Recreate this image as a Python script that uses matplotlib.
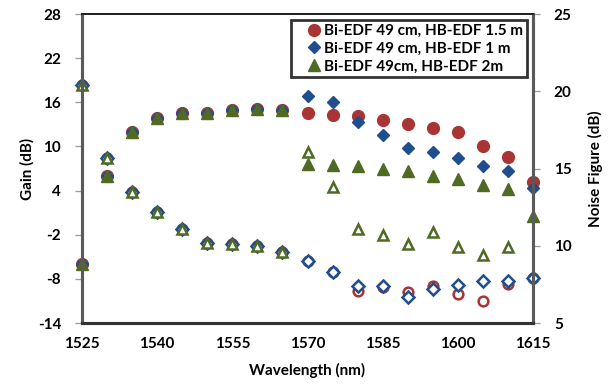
import matplotlib.pyplot as plt
import numpy as np

wavelength = [1525, 1530, 1535, 1540, 1545, 1550, 1555, 1560, 1565, 1570,
              1575, 1580, 1585, 1590, 1595, 1600, 1605, 1610, 1615]

labels = ['Bi-EDF 49 cm, HB-EDF 1.5 m', 'Bi-EDF 49 cm, HB-EDF 1 m', 'Bi-EDF 49cm, HB-EDF 2m']

gain_15 = [-6.0, 6.0, 12.0, 13.8, 14.5, 14.6, 14.9, 15.1, 15.0, 14.5,
           14.3, 14.1, 13.6, 13.1, 12.5, 12.0, 10.1, 8.5, 5.2]
gain_1 = [-6.0, 6.0, 12.0, 13.8, 14.5, 14.6, 14.9, 15.1, 15.0, 16.8,
          16.0, 13.3, 11.5, 9.8, 9.2, 8.4, 7.4, 6.7, 4.3]
gain_2 = [-6.0, 6.0, 12.0, 13.8, 14.5, 14.6, 14.9, 15.1, 15.0, 7.6,
          7.5, 7.3, 7.0, 6.7, 6.0, 5.6, 4.8, 4.2, 0.6]

nf_15 = [20.4, 15.7, 13.5, 12.2, 11.1, 10.2, 10.1, 10.0, 9.6, 9.0,
         8.3, 7.1, 7.3, 7.0, 7.4, 6.9, 6.4, 7.5, 7.9]
nf_1 = [20.4, 15.7, 13.5, 12.2, 11.1, 10.2, 10.1, 10.0, 9.6, 9.0,
        8.3, 7.4, 7.4, 6.7, 7.2, 7.45, 7.75, 7.7, 7.9]
nf_2 = [20.4, 15.7, 13.5, 12.2, 11.1, 10.2, 10.1, 10.0, 9.6, 16.1,
        13.8, 11.1, 10.7, 10.1, 10.9, 9.9, 9.4, 9.9, np.nan]

red = '#A93434'
blue = '#1F4E8F'
green = '#4F6A23'

plt.rcParams['font.family'] = ['Lato', 'DejaVu Sans']
plt.rcParams['font.weight'] = 'bold'
plt.rcParams['axes.unicode_minus'] = False

fig = plt.figure(figsize=(6.14, 3.85), dpi=100)
ax = fig.add_axes([0.1336, 0.161, 0.7345, 0.8026])
ax2 = ax.twinx()

# gain, filled markers
h1, = ax.plot(wavelength, gain_15, 'o', color=red, ms=8.5, clip_on=False, zorder=3)
h2, = ax.plot(wavelength, gain_1, 'D', color=blue, ms=6.5, clip_on=False, zorder=4)
h3, = ax.plot(wavelength, gain_2, '^', color=green, ms=8, clip_on=False, zorder=5)

# noise figure, open markers
ax2.plot(wavelength, nf_15, 'o', mfc='white', mec=red, mew=1.8, ms=7, clip_on=False)
ax2.plot(wavelength, nf_1, 'D', mfc='white', mec=blue, mew=1.8, ms=6, clip_on=False)
ax2.plot(wavelength, nf_2, '^', mfc='white', mec=green, mew=1.8, ms=7, clip_on=False)

ax.set_xlim(1525, 1615)
ax.set_ylim(-14, 28)
ax2.set_ylim(5, 25)
ax.set_xticks(np.arange(1525, 1616, 15))
ax.set_yticks(np.arange(-14, 29, 6))
ax2.set_yticks(np.arange(5, 26, 5))

for a in (ax, ax2):
    for s in a.spines.values():
        s.set_color('#5A5A5A')
        s.set_linewidth(2.2)
    a.spines['top'].set_color('#222222')
    a.spines['top'].set_linewidth(1.4)
    a.spines['bottom'].set_color('#333333')
    a.tick_params(axis='y', length=5, width=1, color='#A0A0A0', labelsize=11, pad=10)
ax.tick_params(axis='x', length=0, labelsize=11, pad=10)

ax.set_xlabel('Wavelength (nm)', fontsize=11, fontweight='bold', labelpad=9)
ax.set_ylabel('Gain (dB)', fontsize=11, fontweight='bold', labelpad=2)
ax2.set_ylabel('Noise Figure (dB)', fontsize=11, fontweight='bold', labelpad=12)

leg = ax2.legend([h1, h2, h3], labels, loc='upper right', bbox_to_anchor=(0.987, 0.98),
                 fontsize=11, frameon=True, fancybox=False, handletextpad=-0.6,
                 handlelength=2.5, borderpad=0.25, labelspacing=0.25, borderaxespad=0)
leg.get_frame().set_edgecolor('black')
leg.get_frame().set_linewidth(2)

plt.savefig('out.png', dpi=100)
